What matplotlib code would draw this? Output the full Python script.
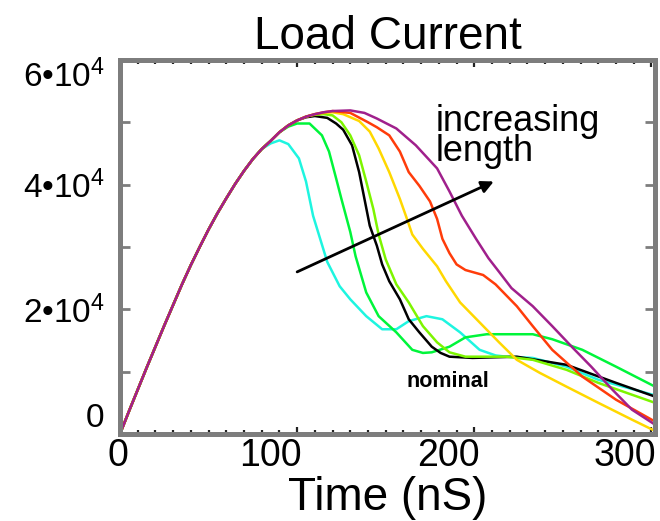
import numpy as np
import matplotlib
matplotlib.use("Agg")
import matplotlib.pyplot as plt
from matplotlib.ticker import MultipleLocator, FixedLocator, FuncFormatter
from matplotlib.transforms import ScaledTranslation

plt.rcParams['font.family'] = ['Liberation Sans', 'DejaVu Sans']
plt.rcParams['mathtext.fontset'] = 'custom'
plt.rcParams['mathtext.rm'] = 'Liberation Sans'
plt.rcParams['mathtext.it'] = 'Liberation Sans'

# shared rising edge (ns, A)
rise_t = [0, 5, 10, 15, 20, 25, 30, 35, 40, 45, 50, 55, 60, 65, 70, 75, 80]
rise_i = [0, 3600, 7100, 10600, 14000, 17400, 20700, 24000, 27100, 30000, 32800,
          35400, 37800, 40100, 42200, 44100, 45700]

# each line after it leaves the common rise
cyan_t = [85, 90, 95, 101, 105, 109, 113, 117, 124, 130, 139, 148, 156, 163, 173,
          182, 192, 203, 212, 218, 233, 252, 270, 302]
cyan_i = [46600, 47100, 46500, 44200, 40500, 35000, 31300, 27600, 23700, 21600,
          18900, 16800, 16800, 18100, 18900, 18400, 16300, 13500, 12600, 12400,
          12200, 10800, 8700, 6200]

green_t = [85, 90, 95, 100, 107, 114, 118, 122, 125, 130, 133, 139, 146, 156, 165,
           171, 176, 186, 195, 207, 233, 244, 261, 280, 302]
green_i = [47000, 48400, 49300, 49800, 49800, 47900, 45300, 41000, 37700, 32400,
           28500, 22700, 18900, 16300, 13500, 13000, 13100, 14000, 15500, 16000,
           16000, 15200, 13500, 10800, 7600]

black_t = [85, 90, 95, 100, 105, 110, 117, 122, 126, 131, 135, 138, 141, 145, 148,
           152, 158, 163, 169, 176, 181, 186, 199, 224, 252, 280, 302]
black_i = [47000, 48400, 49500, 50300, 50800, 51000, 50700, 49800, 48800, 46300,
           42000, 37700, 33400, 30200, 27200, 24500, 21600, 18400, 16300, 14000,
           13000, 12400, 12200, 12400, 11100, 8200, 6000]

lime_t = [85, 90, 95, 100, 105, 110, 115, 120, 125, 130, 135, 139, 143, 146, 150,
          156, 163, 171, 179, 186, 195, 218, 233, 252, 270, 302]
lime_i = [47000, 48400, 49500, 50300, 50900, 51200, 51300, 51100, 50000, 47900,
          44700, 40500, 36100, 32000, 28000, 24000, 21100, 17300, 14700, 13100,
          12400, 12400, 11900, 10300, 8200, 5000]

yellow_t = [85, 90, 95, 100, 105, 110, 115, 120, 126, 135, 141, 146, 152, 158, 162,
            165, 171, 179, 184, 192, 203, 214, 224, 237, 252, 270, 289, 302]
yellow_i = [47000, 48400, 49500, 50300, 50900, 51300, 51500, 51600, 51300, 50200,
            48500, 45800, 42000, 37700, 34500, 32000, 29700, 26900, 24500, 21100,
            17900, 14700, 11900, 9800, 7600, 5000, 2300, 500]

red_t = [85, 90, 95, 100, 105, 110, 115, 120, 130, 140, 145, 152, 158, 163, 169,
         175, 179, 182, 186, 190, 195, 205, 212, 224, 233, 244, 261, 280, 302]
red_i = [47000, 48400, 49500, 50300, 50900, 51300, 51600, 51800, 51500, 50000,
         49200, 47900, 45300, 42000, 39800, 37300, 34500, 31300, 29000, 27200,
         26300, 25500, 24000, 20500, 17300, 13500, 9200, 5500, 2000]

purple_t = [85, 90, 95, 100, 105, 110, 115, 120, 130, 138, 145, 156, 167, 179, 186,
            193, 201, 208, 214, 221, 233, 244, 255, 266, 278, 289, 302]
purple_i = [47000, 48400, 49500, 50300, 50900, 51300, 51600, 51800, 51900, 51500,
            50600, 49000, 46300, 42600, 38900, 35000, 31300, 28200, 26000, 23400,
            20500, 17300, 14000, 10800, 7100, 3900, 1500]

series = [
    (cyan_t, cyan_i, '#1ef5e0'),
    (green_t, green_i, '#00f53a'),
    (black_t, black_i, '#000000'),
    (lime_t, lime_i, '#7df500'),
    (yellow_t, yellow_i, '#ffd800'),
    (red_t, red_i, '#ff3c0a'),
    (purple_t, purple_i, '#a0208c'),
]

fig = plt.figure(figsize=(6.6, 5.21), dpi=100)
ax = fig.add_axes([0.1818, 0.167, 0.8106, 0.718])

for t, i, c in series:
    ax.plot(np.concatenate([rise_t, t]), np.concatenate([rise_i, i]),
            color=c, lw=1.8, solid_joinstyle='round')

ax.set_xlim(0, 302)
ax.set_ylim(0, 60000)

# frame
for s in ax.spines.values():
    s.set_color('#7d7d7d')
    s.set_linewidth(3.6)

ax.xaxis.set_major_locator(FixedLocator([0, 100, 200, 300]))
ax.xaxis.set_minor_locator(MultipleLocator(10))
ax.yaxis.set_major_locator(MultipleLocator(10000))

ax.tick_params(axis='x', which='both', direction='in', top=True, bottom=True,
               color='#222222', width=1.6, labelsize=27, pad=3)
ax.tick_params(axis='x', which='major', length=5)
ax.tick_params(axis='x', which='minor', length=3)
ax.tick_params(axis='y', which='major', direction='in', left=True, right=True,
               color='#7d7d7d', width=2, length=7, labelsize=24, pad=11)


def ylab(v, pos):
    if v == 0:
        return '0'
    if int(round(v)) % 20000 == 0:
        return '%d\u202210$^{4}$' % int(round(v / 10000))
    return ''


ax.yaxis.set_major_formatter(FuncFormatter(ylab))

# x labels sit just left of their ticks
shift = ScaledTranslation(5 / 100, 0, fig.dpi_scale_trans)
for lab in ax.get_xticklabels():
    lab.set_horizontalalignment('right')
    lab.set_transform(lab.get_transform() + shift)
xl = ax.get_xticklabels()
xl[0].set_horizontalalignment('center')
xl[0].set_transform(xl[0].get_transform() + ScaledTranslation(-7 / 100, 0, fig.dpi_scale_trans))

for lab in ax.get_yticklabels():
    if lab.get_text() == '0':
        lab.set_verticalalignment('bottom')
    elif lab.get_text().startswith('6'):
        lab.set_verticalalignment('top')

ax.set_title('Load Current', fontsize=33, pad=8)
ax.set_xlabel('Time (nS)', fontsize=33, labelpad=1)

ax.annotate('', xy=(211, 40500), xytext=(100, 26000),
            arrowprops=dict(arrowstyle='-|>', color='black', lw=2,
                            mutation_scale=18, shrinkA=0, shrinkB=0))
ax.text(178, 53000, 'increasing\nlength', fontsize=26, va='top', ha='left',
        linespacing=0.82)
ax.text(162, 7600, 'nominal', fontsize=15.5, fontweight='bold', va='baseline',
        ha='left')

fig.savefig('out.png', dpi=100)
